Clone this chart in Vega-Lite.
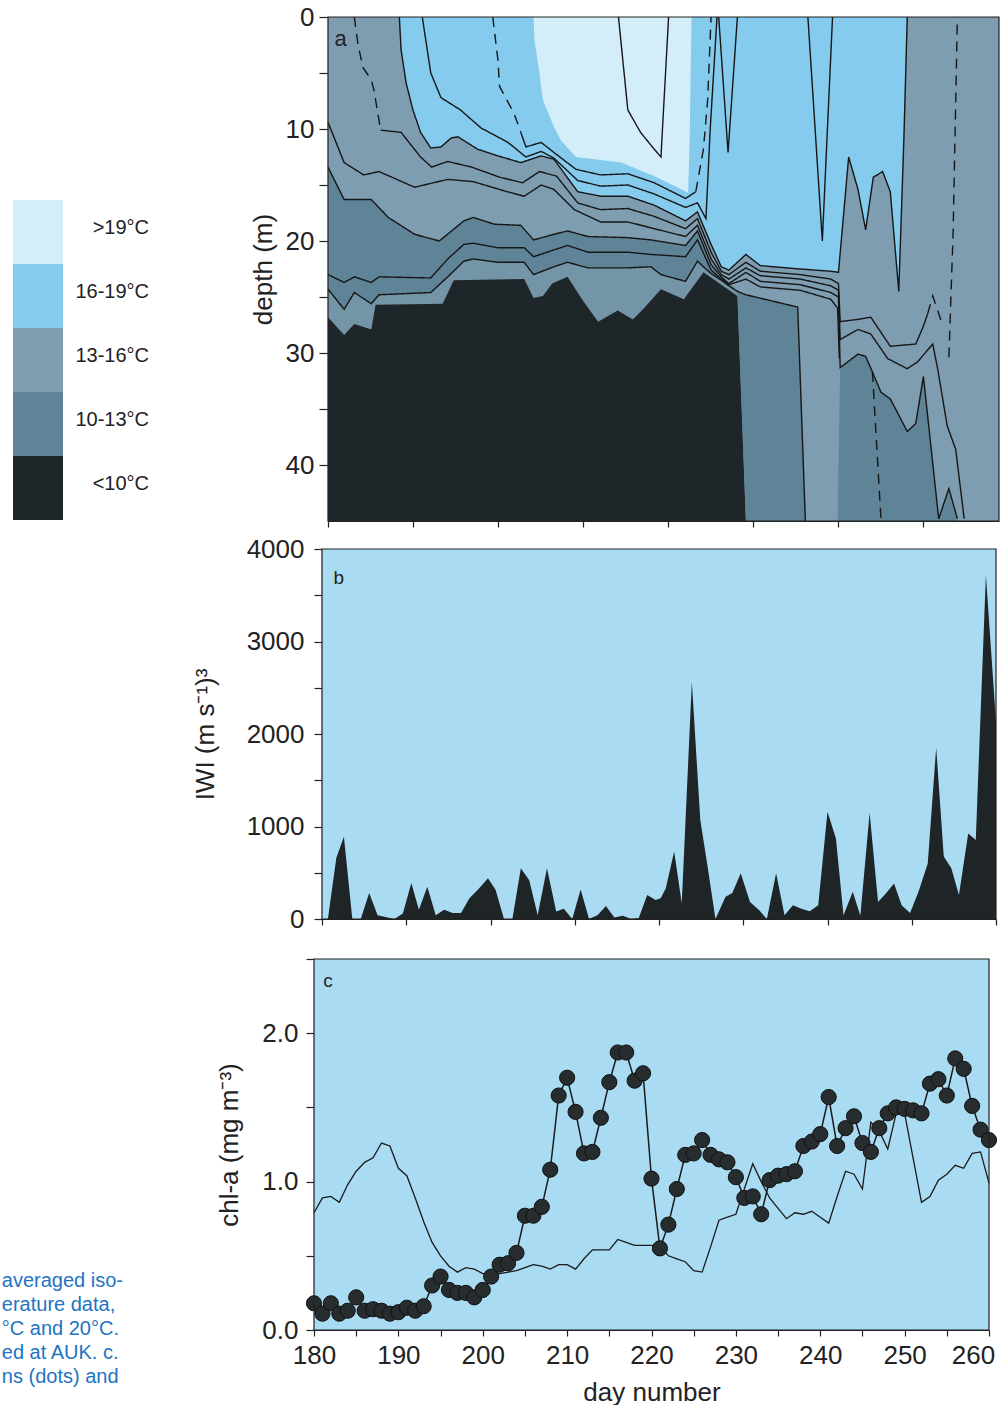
{
  "$schema": "https://vega.github.io/schema/vega-lite/v6.json",
  "background": "white",
  "padding": {"left": 1, "top": 4, "right": 0, "bottom": 0},
  "spacing": 28,
  "bounds": "flush",
  "config": {
    "font": "Liberation Sans",
    "view": {"stroke": null},
    "axis": {"labelFontSize": 26, "titleFontSize": 26, "titleFontWeight": "normal", "labelColor": "#222", "titleColor": "#222", "domainColor": "#222", "tickColor": "#222", "domainWidth": 1.2, "tickWidth": 1.2, "grid": false, "labelOverlap": false, "labelFlush": false, "zindex": 1}
  },
  "datasets": {
    "bands": [
      {"b":"bg","day":180,"depth":45},{"b":"bg","day":259,"depth":45},
      {"b":"d10","day":180,"depth":26.8},{"b":"d10","day":181.9,"depth":28.4},{"b":"d10","day":183.1,"depth":27.4},{"b":"d10","day":185.1,"depth":27.9},{"b":"d10","day":185.6,"depth":25.7},{"b":"d10","day":193.5,"depth":25.6},{"b":"d10","day":194.8,"depth":23.5},{"b":"d10","day":203.1,"depth":23.4},{"b":"d10","day":204.2,"depth":25.1},{"b":"d10","day":205.3,"depth":24.9},{"b":"d10","day":206.4,"depth":23.8},{"b":"d10","day":208.2,"depth":23.2},{"b":"d10","day":209.9,"depth":25.2},{"b":"d10","day":211.8,"depth":27.2},{"b":"d10","day":214.1,"depth":26.2},{"b":"d10","day":215.9,"depth":27.0},{"b":"d10","day":217.2,"depth":26.0},{"b":"d10","day":219.2,"depth":24.3},{"b":"d10","day":221.9,"depth":25.2},{"b":"d10","day":224.2,"depth":22.8},{"b":"d10","day":228.2,"depth":24.9},{"b":"d10","day":229.2,"depth":45},{"b":"d10","day":259,"depth":45},
      {"b":"dS","day":180,"depth":24.3},{"b":"dS","day":181.9,"depth":26.1},{"b":"dS","day":183.1,"depth":24.6},{"b":"dS","day":185.1,"depth":25.6},{"b":"dS","day":186.0,"depth":24.8},{"b":"dS","day":192.1,"depth":24.6},{"b":"dS","day":194.1,"depth":23.2},{"b":"dS","day":196.0,"depth":21.8},{"b":"dS","day":197.1,"depth":21.6},{"b":"dS","day":200.0,"depth":21.9},{"b":"dS","day":203.1,"depth":21.9},{"b":"dS","day":204.2,"depth":23.0},{"b":"dS","day":206.6,"depth":22.3},{"b":"dS","day":208.2,"depth":21.9},{"b":"dS","day":210.6,"depth":22.4},{"b":"dS","day":215.3,"depth":22.4},{"b":"dS","day":218.0,"depth":22.3},{"b":"dS","day":219.2,"depth":23.0},{"b":"dS","day":222.1,"depth":23.6},{"b":"dS","day":223.5,"depth":21.8},{"b":"dS","day":224.2,"depth":22.3},{"b":"dS","day":225.1,"depth":22.9},{"b":"dS","day":226.3,"depth":23.5},{"b":"dS","day":227.2,"depth":24.0},{"b":"dS","day":228.2,"depth":24.5},{"b":"dS","day":229.2,"depth":45},{"b":"dS","day":259,"depth":45},
      {"b":"d13","day":180,"depth":13.4},{"b":"d13","day":181.9,"depth":16.3},{"b":"d13","day":185.1,"depth":16.3},{"b":"d13","day":187.1,"depth":17.9},{"b":"d13","day":190.2,"depth":19.4},{"b":"d13","day":193.1,"depth":20.0},{"b":"d13","day":196.0,"depth":18.2},{"b":"d13","day":197.1,"depth":17.9},{"b":"d13","day":199.6,"depth":18.5},{"b":"d13","day":202.7,"depth":18.6},{"b":"d13","day":204.2,"depth":19.9},{"b":"d13","day":206.6,"depth":19.4},{"b":"d13","day":208.2,"depth":19.1},{"b":"d13","day":210.6,"depth":19.6},{"b":"d13","day":215.3,"depth":19.7},{"b":"d13","day":218.0,"depth":19.9},{"b":"d13","day":222.1,"depth":20.4},{"b":"d13","day":223.5,"depth":19.1},{"b":"d13","day":225.1,"depth":22.1},{"b":"d13","day":226.3,"depth":23.2},{"b":"d13","day":227.2,"depth":23.8},{"b":"d13","day":228.2,"depth":24.4},{"b":"d13","day":229.2,"depth":24.8},{"b":"d13","day":235.3,"depth":25.9},{"b":"d13","day":236.2,"depth":45},{"b":"d13","day":240.0,"depth":45},{"b":"d13","day":240.3,"depth":31.3},{"b":"d13","day":242.4,"depth":30.1},{"b":"d13","day":243.3,"depth":30.3},{"b":"d13","day":244.1,"depth":31.7},{"b":"d13","day":245.1,"depth":33.5},{"b":"d13","day":246.2,"depth":34.1},{"b":"d13","day":248.2,"depth":37.0},{"b":"d13","day":249.2,"depth":36.3},{"b":"d13","day":250.1,"depth":32.1},{"b":"d13","day":251.9,"depth":44.8},{"b":"d13","day":253.1,"depth":42.1},{"b":"d13","day":254.1,"depth":45},{"b":"d13","day":259,"depth":45},
      {"b":"d16","day":180,"depth":0},{"b":"d16","day":188.3,"depth":0},{"b":"d16","day":188.4,"depth":0.3},{"b":"d16","day":188.6,"depth":2.9},{"b":"d16","day":189.2,"depth":5.9},{"b":"d16","day":190.0,"depth":8.3},{"b":"d16","day":190.9,"depth":10.3},{"b":"d16","day":192.1,"depth":11.7},{"b":"d16","day":193.3,"depth":11.6},{"b":"d16","day":194.5,"depth":10.8},{"b":"d16","day":195.3,"depth":10.7},{"b":"d16","day":197.6,"depth":11.8},{"b":"d16","day":200.0,"depth":12.4},{"b":"d16","day":202.7,"depth":13.0},{"b":"d16","day":205.1,"depth":12.4},{"b":"d16","day":206.6,"depth":12.7},{"b":"d16","day":209.4,"depth":15.6},{"b":"d16","day":212.1,"depth":16.0},{"b":"d16","day":215.3,"depth":16.0},{"b":"d16","day":218.4,"depth":16.8},{"b":"d16","day":222.1,"depth":18.2},{"b":"d16","day":223.5,"depth":17.4},{"b":"d16","day":225.1,"depth":20.3},{"b":"d16","day":226.3,"depth":22.3},{"b":"d16","day":227.2,"depth":22.6},{"b":"d16","day":229.2,"depth":21.2},{"b":"d16","day":230.9,"depth":22.2},{"b":"d16","day":235.6,"depth":22.5},{"b":"d16","day":239.2,"depth":22.7},{"b":"d16","day":240.1,"depth":22.8},{"b":"d16","day":241.3,"depth":12.5},{"b":"d16","day":242.4,"depth":15.4},{"b":"d16","day":243.3,"depth":19.0},{"b":"d16","day":244.2,"depth":14.3},{"b":"d16","day":245.3,"depth":13.8},{"b":"d16","day":246.2,"depth":15.6},{"b":"d16","day":247.2,"depth":24.5},{"b":"d16","day":247.8,"depth":10.9},{"b":"d16","day":248.2,"depth":0},{"b":"d16","day":259,"depth":0},
      {"b":"d19","day":180,"depth":0},{"b":"d19","day":204.2,"depth":0},{"b":"d19","day":204.3,"depth":2.0},{"b":"d19","day":204.8,"depth":4.5},{"b":"d19","day":205.3,"depth":7.4},{"b":"d19","day":206.6,"depth":9.8},{"b":"d19","day":207.4,"depth":11.0},{"b":"d19","day":209.2,"depth":12.5},{"b":"d19","day":214.5,"depth":13.0},{"b":"d19","day":218.4,"depth":14.2},{"b":"d19","day":222.4,"depth":15.7},{"b":"d19","day":222.6,"depth":10.0},{"b":"d19","day":222.8,"depth":0},{"b":"d19","day":259,"depth":0}
    ],
    "iso": [
      {"seg":"c1a","dash":"d","day":199.4,"depth":0},{"seg":"c1a","dash":"d","day":200.0,"depth":3.8},{"seg":"c1a","dash":"d","day":200.2,"depth":6.2},{"seg":"c1a","dash":"d","day":201.9,"depth":8.6},{"seg":"c1a","dash":"d","day":202.7,"depth":10.3},
      {"seg":"c1b","dash":"s","day":202.7,"depth":10.3},{"seg":"c1b","dash":"s","day":203.3,"depth":11.6},{"seg":"c1b","dash":"s","day":205.1,"depth":11.2},{"seg":"c1b","dash":"s","day":206.6,"depth":12.1},{"seg":"c1b","dash":"s","day":209.2,"depth":13.6},{"seg":"c1b","dash":"s","day":212.1,"depth":14.1},{"seg":"c1b","dash":"s","day":215.3,"depth":14.0},{"seg":"c1b","dash":"s","day":218.4,"depth":14.8},{"seg":"c1b","dash":"s","day":222.1,"depth":16.2},{"seg":"c1b","dash":"s","day":223.3,"depth":15.6},
      {"seg":"c1c","dash":"d","day":223.3,"depth":15.6},{"seg":"c1c","dash":"d","day":224.2,"depth":11.8},{"seg":"c1c","dash":"d","day":224.7,"depth":7.4},{"seg":"c1c","dash":"d","day":225.1,"depth":0},
      {"seg":"c2","dash":"s","day":191.1,"depth":0},{"seg":"c2","dash":"s","day":192.1,"depth":5.0},{"seg":"c2","dash":"s","day":193.3,"depth":7.2},{"seg":"c2","dash":"s","day":195.6,"depth":8.3},{"seg":"c2","dash":"s","day":198.0,"depth":9.9},{"seg":"c2","dash":"s","day":201.2,"depth":11.2},{"seg":"c2","dash":"s","day":203.3,"depth":12.5},{"seg":"c2","dash":"s","day":205.1,"depth":12.0},{"seg":"c2","dash":"s","day":206.6,"depth":12.6},{"seg":"c2","dash":"s","day":209.4,"depth":14.6},{"seg":"c2","dash":"s","day":212.1,"depth":15.1},{"seg":"c2","dash":"s","day":215.3,"depth":15.0},{"seg":"c2","dash":"s","day":218.4,"depth":15.8},{"seg":"c2","dash":"s","day":222.1,"depth":17.0},{"seg":"c2","dash":"s","day":223.5,"depth":16.6},{"seg":"c2","dash":"s","day":224.5,"depth":18.0},{"seg":"c2","dash":"s","day":225.0,"depth":10.0},{"seg":"c2","dash":"s","day":225.8,"depth":0},
      {"seg":"c3","dash":"s","day":188.4,"depth":0},{"seg":"c3","dash":"s","day":188.6,"depth":2.9},{"seg":"c3","dash":"s","day":189.2,"depth":5.9},{"seg":"c3","dash":"s","day":190.0,"depth":8.3},{"seg":"c3","dash":"s","day":190.9,"depth":10.3},{"seg":"c3","dash":"s","day":192.1,"depth":11.7},{"seg":"c3","dash":"s","day":193.3,"depth":11.6},{"seg":"c3","dash":"s","day":194.5,"depth":10.8},{"seg":"c3","dash":"s","day":195.3,"depth":10.7},{"seg":"c3","dash":"s","day":197.6,"depth":11.8},{"seg":"c3","dash":"s","day":200.0,"depth":12.4},{"seg":"c3","dash":"s","day":202.7,"depth":13.0},{"seg":"c3","dash":"s","day":205.1,"depth":12.4},{"seg":"c3","dash":"s","day":206.6,"depth":12.7},{"seg":"c3","dash":"s","day":209.4,"depth":15.6},{"seg":"c3","dash":"s","day":212.1,"depth":16.0},{"seg":"c3","dash":"s","day":215.3,"depth":16.0},{"seg":"c3","dash":"s","day":218.4,"depth":16.8},{"seg":"c3","dash":"s","day":222.1,"depth":18.2},{"seg":"c3","dash":"s","day":223.5,"depth":17.4},{"seg":"c3","dash":"s","day":225.1,"depth":20.3},{"seg":"c3","dash":"s","day":226.3,"depth":22.3},{"seg":"c3","dash":"s","day":227.2,"depth":22.6},{"seg":"c3","dash":"s","day":229.2,"depth":21.2},{"seg":"c3","dash":"s","day":230.9,"depth":22.2},{"seg":"c3","dash":"s","day":235.6,"depth":22.5},{"seg":"c3","dash":"s","day":239.2,"depth":22.7},{"seg":"c3","dash":"s","day":240.1,"depth":22.8},{"seg":"c3","dash":"s","day":241.3,"depth":12.5},{"seg":"c3","dash":"s","day":242.4,"depth":15.4},{"seg":"c3","dash":"s","day":243.3,"depth":19.0},{"seg":"c3","dash":"s","day":244.2,"depth":14.3},{"seg":"c3","dash":"s","day":245.3,"depth":13.8},{"seg":"c3","dash":"s","day":246.2,"depth":15.6},{"seg":"c3","dash":"s","day":247.2,"depth":24.5},{"seg":"c3","dash":"s","day":247.8,"depth":10.9},{"seg":"c3","dash":"s","day":248.2,"depth":0},
      {"seg":"c4a","dash":"d","day":183.1,"depth":0},{"seg":"c4a","dash":"d","day":183.5,"depth":2.3},{"seg":"c4a","dash":"d","day":184.1,"depth":4.5},{"seg":"c4a","dash":"d","day":185.1,"depth":5.6},{"seg":"c4a","dash":"d","day":185.4,"depth":6.5},{"seg":"c4a","dash":"d","day":186.0,"depth":9.2},{"seg":"c4a","dash":"d","day":186.2,"depth":10.1},
      {"seg":"c4b","dash":"s","day":186.2,"depth":10.1},{"seg":"c4b","dash":"s","day":188.6,"depth":10.3},{"seg":"c4b","dash":"s","day":190.9,"depth":12.5},{"seg":"c4b","dash":"s","day":192.2,"depth":13.4},{"seg":"c4b","dash":"s","day":194.1,"depth":12.9},{"seg":"c4b","dash":"s","day":196.9,"depth":13.4},{"seg":"c4b","dash":"s","day":200.2,"depth":14.3},{"seg":"c4b","dash":"s","day":202.9,"depth":14.8},{"seg":"c4b","dash":"s","day":204.9,"depth":13.8},{"seg":"c4b","dash":"s","day":206.9,"depth":14.2},{"seg":"c4b","dash":"s","day":209.4,"depth":16.6},{"seg":"c4b","dash":"s","day":212.1,"depth":17.2},{"seg":"c4b","dash":"s","day":215.3,"depth":17.1},{"seg":"c4b","dash":"s","day":218.4,"depth":17.8},{"seg":"c4b","dash":"s","day":222.1,"depth":18.9},{"seg":"c4b","dash":"s","day":223.5,"depth":18.0},{"seg":"c4b","dash":"s","day":225.1,"depth":21.0},{"seg":"c4b","dash":"s","day":226.3,"depth":22.7},{"seg":"c4b","dash":"s","day":227.2,"depth":23.0},{"seg":"c4b","dash":"s","day":229.2,"depth":21.9},{"seg":"c4b","dash":"s","day":230.9,"depth":22.7},{"seg":"c4b","dash":"s","day":235.6,"depth":23.0},{"seg":"c4b","dash":"s","day":239.2,"depth":23.4},{"seg":"c4b","dash":"s","day":240.1,"depth":23.8},{"seg":"c4b","dash":"s","day":240.3,"depth":27.2},{"seg":"c4b","dash":"s","day":242.4,"depth":27.0},{"seg":"c4b","dash":"s","day":243.9,"depth":26.8},{"seg":"c4b","dash":"s","day":246.2,"depth":29.4},{"seg":"c4b","dash":"s","day":249.2,"depth":29.2},{"seg":"c4b","dash":"s","day":250.1,"depth":27.6},{"seg":"c4b","dash":"s","day":250.6,"depth":26.5},
      {"seg":"c4c","dash":"d","day":250.6,"depth":26.5},{"seg":"c4c","dash":"d","day":251.2,"depth":24.9},{"seg":"c4c","dash":"d","day":252.4,"depth":27.6},
      {"seg":"c5","dash":"s","day":180,"depth":9.4},{"seg":"c5","dash":"s","day":181.9,"depth":13.0},{"seg":"c5","dash":"s","day":184.2,"depth":14.1},{"seg":"c5","dash":"s","day":186.0,"depth":13.8},{"seg":"c5","dash":"s","day":190.2,"depth":15.2},{"seg":"c5","dash":"s","day":194.1,"depth":14.5},{"seg":"c5","dash":"s","day":197.1,"depth":14.7},{"seg":"c5","dash":"s","day":201.1,"depth":15.6},{"seg":"c5","dash":"s","day":203.1,"depth":16.0},{"seg":"c5","dash":"s","day":205.1,"depth":15.0},{"seg":"c5","dash":"s","day":206.6,"depth":15.4},{"seg":"c5","dash":"s","day":209.0,"depth":17.2},{"seg":"c5","dash":"s","day":212.1,"depth":18.3},{"seg":"c5","dash":"s","day":215.3,"depth":18.3},{"seg":"c5","dash":"s","day":218.4,"depth":18.9},{"seg":"c5","dash":"s","day":222.1,"depth":19.6},{"seg":"c5","dash":"s","day":223.5,"depth":18.6},{"seg":"c5","dash":"s","day":225.1,"depth":21.6},{"seg":"c5","dash":"s","day":226.3,"depth":23.0},{"seg":"c5","dash":"s","day":227.2,"depth":23.4},{"seg":"c5","dash":"s","day":229.2,"depth":22.4},{"seg":"c5","dash":"s","day":230.9,"depth":23.1},{"seg":"c5","dash":"s","day":235.6,"depth":23.4},{"seg":"c5","dash":"s","day":239.2,"depth":24.0},{"seg":"c5","dash":"s","day":240.1,"depth":24.4},{"seg":"c5","dash":"s","day":240.3,"depth":28.8},{"seg":"c5","dash":"s","day":242.4,"depth":27.9},{"seg":"c5","dash":"s","day":243.9,"depth":28.3},{"seg":"c5","dash":"s","day":245.9,"depth":30.5},{"seg":"c5","dash":"s","day":248.2,"depth":31.4},{"seg":"c5","dash":"s","day":249.4,"depth":30.8},{"seg":"c5","dash":"s","day":251.2,"depth":29.2},{"seg":"c5","dash":"s","day":251.8,"depth":31.5},{"seg":"c5","dash":"s","day":252.9,"depth":36.5},{"seg":"c5","dash":"s","day":253.9,"depth":38.6},{"seg":"c5","dash":"s","day":254.9,"depth":44.8},
      {"seg":"c6","dash":"s","day":180,"depth":13.4},{"seg":"c6","dash":"s","day":181.9,"depth":16.3},{"seg":"c6","dash":"s","day":185.1,"depth":16.3},{"seg":"c6","dash":"s","day":187.1,"depth":17.9},{"seg":"c6","dash":"s","day":190.2,"depth":19.4},{"seg":"c6","dash":"s","day":193.1,"depth":20.0},{"seg":"c6","dash":"s","day":196.0,"depth":18.2},{"seg":"c6","dash":"s","day":197.1,"depth":17.9},{"seg":"c6","dash":"s","day":199.6,"depth":18.5},{"seg":"c6","dash":"s","day":202.7,"depth":18.6},{"seg":"c6","dash":"s","day":204.2,"depth":19.9},{"seg":"c6","dash":"s","day":206.6,"depth":19.4},{"seg":"c6","dash":"s","day":208.2,"depth":19.1},{"seg":"c6","dash":"s","day":210.6,"depth":19.6},{"seg":"c6","dash":"s","day":215.3,"depth":19.7},{"seg":"c6","dash":"s","day":218.0,"depth":19.9},{"seg":"c6","dash":"s","day":222.1,"depth":20.4},{"seg":"c6","dash":"s","day":223.5,"depth":19.1},{"seg":"c6","dash":"s","day":225.1,"depth":22.1},{"seg":"c6","dash":"s","day":226.3,"depth":23.2},{"seg":"c6","dash":"s","day":227.2,"depth":23.8},{"seg":"c6","dash":"s","day":229.2,"depth":22.8},{"seg":"c6","dash":"s","day":230.9,"depth":23.6},{"seg":"c6","dash":"s","day":235.6,"depth":23.9},{"seg":"c6","dash":"s","day":239.2,"depth":24.6},{"seg":"c6","dash":"s","day":240.1,"depth":25.0},{"seg":"c6","dash":"s","day":240.3,"depth":31.3},{"seg":"c6","dash":"s","day":242.4,"depth":30.1},{"seg":"c6","dash":"s","day":243.3,"depth":30.3},{"seg":"c6","dash":"s","day":244.1,"depth":31.7},{"seg":"c6","dash":"s","day":245.1,"depth":33.5},{"seg":"c6","dash":"s","day":246.2,"depth":34.1},{"seg":"c6","dash":"s","day":248.2,"depth":37.0},{"seg":"c6","dash":"s","day":249.2,"depth":36.3},{"seg":"c6","dash":"s","day":250.1,"depth":32.1},{"seg":"c6","dash":"s","day":251.9,"depth":44.8},
      {"seg":"c7","dash":"s","day":180,"depth":23.0},{"seg":"c7","dash":"s","day":181.9,"depth":23.7},{"seg":"c7","dash":"s","day":183.1,"depth":23.2},{"seg":"c7","dash":"s","day":185.1,"depth":23.7},{"seg":"c7","dash":"s","day":186.0,"depth":23.2},{"seg":"c7","dash":"s","day":192.1,"depth":23.3},{"seg":"c7","dash":"s","day":194.1,"depth":21.6},{"seg":"c7","dash":"s","day":196.0,"depth":20.3},{"seg":"c7","dash":"s","day":197.1,"depth":20.2},{"seg":"c7","dash":"s","day":200.0,"depth":20.6},{"seg":"c7","dash":"s","day":203.1,"depth":20.6},{"seg":"c7","dash":"s","day":204.2,"depth":21.4},{"seg":"c7","dash":"s","day":206.6,"depth":20.8},{"seg":"c7","dash":"s","day":208.2,"depth":20.4},{"seg":"c7","dash":"s","day":210.6,"depth":21.0},{"seg":"c7","dash":"s","day":215.3,"depth":21.0},{"seg":"c7","dash":"s","day":218.0,"depth":21.2},{"seg":"c7","dash":"s","day":222.1,"depth":21.4},{"seg":"c7","dash":"s","day":223.5,"depth":19.9},{"seg":"c7","dash":"s","day":225.1,"depth":22.6},{"seg":"c7","dash":"s","day":226.3,"depth":23.4},{"seg":"c7","dash":"s","day":227.2,"depth":23.9},{"seg":"c7","dash":"s","day":229.2,"depth":23.4},{"seg":"c7","dash":"s","day":230.9,"depth":24.1},{"seg":"c7","dash":"s","day":235.6,"depth":24.4},{"seg":"c7","dash":"s","day":239.2,"depth":25.2},{"seg":"c7","dash":"s","day":240.0,"depth":26.0},{"seg":"c7","dash":"s","day":240.2,"depth":30.5},
      {"seg":"c8","dash":"s","day":180,"depth":24.3},{"seg":"c8","dash":"s","day":181.9,"depth":26.1},{"seg":"c8","dash":"s","day":183.1,"depth":24.6},{"seg":"c8","dash":"s","day":185.1,"depth":25.6},{"seg":"c8","dash":"s","day":186.0,"depth":24.8},{"seg":"c8","dash":"s","day":192.1,"depth":24.6},{"seg":"c8","dash":"s","day":194.1,"depth":23.2},{"seg":"c8","dash":"s","day":196.0,"depth":21.8},{"seg":"c8","dash":"s","day":197.1,"depth":21.6},{"seg":"c8","dash":"s","day":200.0,"depth":21.9},{"seg":"c8","dash":"s","day":203.1,"depth":21.9},{"seg":"c8","dash":"s","day":204.2,"depth":23.0},{"seg":"c8","dash":"s","day":206.6,"depth":22.3},{"seg":"c8","dash":"s","day":208.2,"depth":21.9},{"seg":"c8","dash":"s","day":210.6,"depth":22.4},{"seg":"c8","dash":"s","day":215.3,"depth":22.4},{"seg":"c8","dash":"s","day":218.0,"depth":22.3},{"seg":"c8","dash":"s","day":219.2,"depth":23.0},{"seg":"c8","dash":"s","day":222.1,"depth":23.6},{"seg":"c8","dash":"s","day":223.5,"depth":21.8},{"seg":"c8","dash":"s","day":224.2,"depth":22.3},{"seg":"c8","dash":"s","day":225.1,"depth":22.9},{"seg":"c8","dash":"s","day":226.3,"depth":23.5},{"seg":"c8","dash":"s","day":227.2,"depth":24.0},{"seg":"c8","dash":"s","day":228.2,"depth":24.5},{"seg":"c8","dash":"s","day":229.2,"depth":24.8},{"seg":"c8","dash":"s","day":235.3,"depth":25.9},{"seg":"c8","dash":"s","day":236.2,"depth":45},
      {"seg":"v19","dash":"s","day":214.2,"depth":0},{"seg":"v19","dash":"s","day":215.3,"depth":8.3},{"seg":"v19","dash":"s","day":216.8,"depth":10.3},{"seg":"v19","dash":"s","day":218.4,"depth":11.8},{"seg":"v19","dash":"s","day":219.2,"depth":12.5},{"seg":"v19","dash":"s","day":220.1,"depth":0},
      {"seg":"v1","dash":"s","day":226.0,"depth":0},{"seg":"v1","dash":"s","day":227.1,"depth":12.1},{"seg":"v1","dash":"s","day":228.2,"depth":0},
      {"seg":"v2","dash":"s","day":236.5,"depth":0},{"seg":"v2","dash":"s","day":238.2,"depth":20.0},{"seg":"v2","dash":"s","day":239.4,"depth":0},
      {"seg":"dR","dash":"d","day":253.1,"depth":30.4},{"seg":"dR","dash":"d","day":253.6,"depth":19.2},{"seg":"dR","dash":"d","day":254.1,"depth":0},
      {"seg":"dA","dash":"d","day":244.1,"depth":31.7},{"seg":"dA","dash":"d","day":245.1,"depth":44.8},
      {"seg":"sp","dash":"s","day":251.9,"depth":44.8},{"seg":"sp","dash":"s","day":253.1,"depth":42.1},{"seg":"sp","dash":"s","day":254.1,"depth":44.8}
    ],
    "iwi": [
      {"day":180,"iwi":0},{"day":180.7,"iwi":0},{"day":181.7,"iwi":660},{"day":182.6,"iwi":890},{"day":183.6,"iwi":0},{"day":184.6,"iwi":0},{"day":185.6,"iwi":280},{"day":186.6,"iwi":40},{"day":188.6,"iwi":0},{"day":189.6,"iwi":60},{"day":190.6,"iwi":390},{"day":191.5,"iwi":100},{"day":192.5,"iwi":350},{"day":193.5,"iwi":40},{"day":194.5,"iwi":100},{"day":195.5,"iwi":65},{"day":196.5,"iwi":65},{"day":197.5,"iwi":225},{"day":198.5,"iwi":315},{"day":199.7,"iwi":440},{"day":200.6,"iwi":315},{"day":201.6,"iwi":0},{"day":202.6,"iwi":0},{"day":203.6,"iwi":550},{"day":204.6,"iwi":420},{"day":205.6,"iwi":40},{"day":206.7,"iwi":550},{"day":207.8,"iwi":80},{"day":208.7,"iwi":110},{"day":209.7,"iwi":0},{"day":210.7,"iwi":320},{"day":211.7,"iwi":0},{"day":212.7,"iwi":40},{"day":213.7,"iwi":140},{"day":214.7,"iwi":15},{"day":215.7,"iwi":35},{"day":216.7,"iwi":0},{"day":217.6,"iwi":10},{"day":218.6,"iwi":260},{"day":219.6,"iwi":205},{"day":220.2,"iwi":225},{"day":220.8,"iwi":330},{"day":221.8,"iwi":730},{"day":222.7,"iwi":170},{"day":223.9,"iwi":2565},{"day":224.9,"iwi":1070},{"day":225.8,"iwi":550},{"day":226.7,"iwi":0},{"day":227.9,"iwi":240},{"day":228.7,"iwi":280},{"day":229.7,"iwi":495},{"day":230.8,"iwi":185},{"day":231.9,"iwi":95},{"day":232.8,"iwi":0},{"day":233.9,"iwi":495},{"day":234.9,"iwi":40},{"day":235.9,"iwi":150},{"day":236.9,"iwi":110},{"day":237.9,"iwi":85},{"day":238.9,"iwi":150},{"day":240.0,"iwi":1160},{"day":241.0,"iwi":870},{"day":241.9,"iwi":40},{"day":243.0,"iwi":295},{"day":243.9,"iwi":35},{"day":245.0,"iwi":1150},{"day":246.0,"iwi":185},{"day":247.0,"iwi":285},{"day":247.9,"iwi":385},{"day":248.8,"iwi":150},{"day":249.8,"iwi":65},{"day":250.8,"iwi":295},{"day":251.9,"iwi":600},{"day":252.9,"iwi":1855},{"day":253.8,"iwi":675},{"day":254.7,"iwi":550},{"day":255.6,"iwi":260},{"day":256.7,"iwi":925},{"day":257.6,"iwi":855},{"day":258.8,"iwi":3720},{"day":260.0,"iwi":2130}
    ],
    "chl": [
      {"day":180,"chl":0.18,"ref":0.79},{"day":181,"chl":0.11,"ref":0.89},{"day":182,"chl":0.18,"ref":0.90},{"day":183,"chl":0.11,"ref":0.86},{"day":184,"chl":0.13,"ref":0.98},{"day":185,"chl":0.22,"ref":1.07},{"day":186,"chl":0.13,"ref":1.13},{"day":187,"chl":0.14,"ref":1.16},{"day":188,"chl":0.13,"ref":1.26},{"day":189,"chl":0.11,"ref":1.24},{"day":190,"chl":0.12,"ref":1.09},{"day":191,"chl":0.15,"ref":1.04},{"day":192,"chl":0.13,"ref":0.89},{"day":193,"chl":0.16,"ref":0.73},{"day":194,"chl":0.30,"ref":0.59},{"day":195,"chl":0.36,"ref":0.50},{"day":196,"chl":0.27,"ref":0.43},{"day":197,"chl":0.25,"ref":0.39},{"day":198,"chl":0.25,"ref":0.42},{"day":199,"chl":0.22,"ref":0.41},{"day":200,"chl":0.27,"ref":0.38},{"day":201,"chl":0.36,"ref":0.38},{"day":202,"chl":0.44,"ref":0.38},{"day":203,"chl":0.45,"ref":0.39},{"day":204,"chl":0.52,"ref":0.40},{"day":205,"chl":0.77,"ref":0.42},{"day":206,"chl":0.77,"ref":0.44},{"day":207,"chl":0.83,"ref":0.43},{"day":208,"chl":1.08,"ref":0.41},{"day":209,"chl":1.58,"ref":0.44},{"day":210,"chl":1.70,"ref":0.44},{"day":211,"chl":1.47,"ref":0.41},{"day":212,"chl":1.19,"ref":0.48},{"day":213,"chl":1.20,"ref":0.54},{"day":214,"chl":1.43,"ref":0.54},{"day":215,"chl":1.67,"ref":0.54},{"day":216,"chl":1.87,"ref":0.61},{"day":217,"chl":1.87,"ref":0.59},{"day":218,"chl":1.68,"ref":0.57},{"day":219,"chl":1.73,"ref":0.57},{"day":220,"chl":1.02,"ref":0.57},{"day":221,"chl":0.55,"ref":0.56},{"day":222,"chl":0.71,"ref":0.50},{"day":223,"chl":0.95,"ref":0.48},{"day":224,"chl":1.18,"ref":0.46},{"day":225,"chl":1.19,"ref":0.40},{"day":226,"chl":1.28,"ref":0.39},{"day":227,"chl":1.18,"ref":0.56},{"day":228,"chl":1.15,"ref":0.74},{"day":229,"chl":1.13,"ref":0.76},{"day":230,"chl":1.03,"ref":0.78},{"day":231,"chl":0.89,"ref":0.95},{"day":232,"chl":0.90,"ref":1.12},{"day":233,"chl":0.78,"ref":1.00},{"day":234,"chl":1.01,"ref":0.89},{"day":235,"chl":1.04,"ref":0.82},{"day":236,"chl":1.05,"ref":0.75},{"day":237,"chl":1.07,"ref":0.79},{"day":238,"chl":1.24,"ref":0.78},{"day":239,"chl":1.27,"ref":0.80},{"day":240,"chl":1.32,"ref":0.76},{"day":241,"chl":1.57,"ref":0.72},{"day":242,"chl":1.24,"ref":0.90},{"day":243,"chl":1.36,"ref":1.07},{"day":244,"chl":1.44,"ref":1.05},{"day":245,"chl":1.26,"ref":0.95},{"day":246,"chl":1.20,"ref":1.40},{"day":247,"chl":1.36,"ref":1.34},{"day":248,"chl":1.46,"ref":1.22},{"day":249,"chl":1.50,"ref":1.46},{"day":250,"chl":1.49,"ref":1.46},{"day":251,"chl":1.48,"ref":1.16},{"day":252,"chl":1.46,"ref":0.86},{"day":253,"chl":1.66,"ref":0.90},{"day":254,"chl":1.69,"ref":1.01},{"day":255,"chl":1.58,"ref":1.05},{"day":256,"chl":1.83,"ref":1.11},{"day":257,"chl":1.76,"ref":1.09},{"day":258,"chl":1.51,"ref":1.19},{"day":259,"chl":1.35,"ref":1.20},{"day":260,"chl":1.28,"ref":0.99}
    ]
  },
  "vconcat": [
    {
      "width": 685,
      "height": 504,
      "layer": [
        {"data": {"name": "bands"}, "transform": [{"filter": "datum.b === 'bg'"}], "mark": {"type": "area", "opacity": 1},
         "encoding": {
           "x": {"field": "day", "type": "quantitative", "scale": {"domain": [180, 259], "range": [14, 685], "nice": false, "zero": false},
                 "axis": {"orient": "bottom", "values": [180, 190, 200, 210, 220, 230, 240, 250], "labels": false, "tickSize": 6, "title": null}},
           "y": {"field": "depth", "type": "quantitative", "stack": null, "scale": {"domain": [0, 45], "reverse": true, "nice": false, "zero": false},
                 "axis": {"orient": "left", "offset": -14, "values": [0, 5, 10, 15, 20, 25, 30, 35, 40], "labelExpr": "datum.value % 10 === 0 ? datum.label : ''", "tickSize": 9, "labelPadding": 5, "title": "depth (m)", "titlePadding": 9}},
           "y2": {"datum": 0},
           "color": {"datum": "<10°C", "type": "nominal",
             "scale": {"domain": [">19°C", "16-19°C", "13-16°C", "10-13°C", "<10°C"], "range": ["#d4eef9", "#84cbee", "#7e9db1", "#5f8397", "#1f2629"]},
             "legend": {"orient": "none", "legendX": -301, "legendY": 190, "title": null, "symbolType": "M-1,-1.28H1V1.28H-1Z", "symbolSize": 2500, "symbolStrokeWidth": 0, "symbolOpacity": 1, "rowPadding": 0, "labelOffset": 86, "labelAlign": "right", "labelFontSize": 20, "labelColor": "#222", "padding": 0, "offset": 0, "labelLimit": 300,
               "encode": {"symbols": {"update": {"fill": {"signal": "datum.value === '>19°C' ? '#c9e9f5' : datum.value === '16-19°C' ? '#17a4e7' : datum.value === '13-16°C' ? '#87a5b8' : datum.value === '10-13°C' ? '#5a7d90' : '#2a2d2e'"}}},
                          "labels": {"update": {"dy": {"value": -4}}}}}}}},
        {"data": {"name": "bands"}, "transform": [{"filter": "datum.b === 'd10'"}], "mark": {"type": "area", "opacity": 1, "color": "#7494a7"},
         "encoding": {"x": {"field": "day", "type": "quantitative"}, "y": {"field": "depth", "type": "quantitative", "stack": null}, "y2": {"datum": 0}}},
        {"data": {"name": "bands"}, "transform": [{"filter": "datum.b === 'dS'"}], "mark": {"type": "area", "opacity": 1},
         "encoding": {"x": {"field": "day", "type": "quantitative"}, "y": {"field": "depth", "type": "quantitative", "stack": null}, "y2": {"datum": 0}, "color": {"datum": "10-13°C", "type": "nominal"}}},
        {"data": {"name": "bands"}, "transform": [{"filter": "datum.b === 'd13'"}], "mark": {"type": "area", "opacity": 1},
         "encoding": {"x": {"field": "day", "type": "quantitative"}, "y": {"field": "depth", "type": "quantitative", "stack": null}, "y2": {"datum": 0}, "color": {"datum": "13-16°C", "type": "nominal"}}},
        {"data": {"name": "bands"}, "transform": [{"filter": "datum.b === 'd16'"}], "mark": {"type": "area", "opacity": 1},
         "encoding": {"x": {"field": "day", "type": "quantitative"}, "y": {"field": "depth", "type": "quantitative", "stack": null}, "y2": {"datum": 0}, "color": {"datum": "16-19°C", "type": "nominal"}}},
        {"data": {"name": "bands"}, "transform": [{"filter": "datum.b === 'd19'"}], "mark": {"type": "area", "opacity": 1},
         "encoding": {"x": {"field": "day", "type": "quantitative"}, "y": {"field": "depth", "type": "quantitative", "stack": null}, "y2": {"datum": 0}, "color": {"datum": ">19°C", "type": "nominal"}}},
        {"data": {"name": "iso"}, "mark": {"type": "line", "color": "#161616", "strokeWidth": 1.4},
         "encoding": {"x": {"field": "day", "type": "quantitative"}, "y": {"field": "depth", "type": "quantitative"},
           "detail": {"field": "seg", "type": "nominal"},
           "strokeDash": {"field": "dash", "type": "nominal", "scale": {"domain": ["s", "d"], "range": [[1, 0], [10, 7]]}, "legend": null}}},
        {"data": {"values": [{"t": "a"}]}, "mark": {"type": "text", "fontSize": 22, "color": "#222"},
         "encoding": {"x": {"datum": 181.5, "type": "quantitative"}, "y": {"datum": 2, "type": "quantitative"}, "text": {"field": "t", "type": "nominal"}}},
        {"data": {"values": [{"t": "frame"}]}, "mark": {"type": "rect", "fill": "transparent", "stroke": "#222", "strokeWidth": 1.2},
         "encoding": {"x": {"datum": 180, "type": "quantitative"}, "x2": {"datum": 259}, "y": {"datum": 0, "type": "quantitative"}, "y2": {"datum": 45}}}
      ]
    },
    {
      "width": 684,
      "height": 382,
      "layer": [
        {"data": {"values": [{"t": "background"}]}, "mark": {"type": "rect", "color": "#a9dcf3", "opacity": 1},
         "encoding": {"x": {"datum": 180, "type": "quantitative"}, "x2": {"datum": 260}, "y": {"datum": 0, "type": "quantitative"}, "y2": {"datum": 4000}}},
        {"data": {"name": "iwi"}, "mark": {"type": "area", "color": "#1f2427", "opacity": 1},
         "encoding": {
           "x": {"field": "day", "type": "quantitative", "scale": {"domain": [180, 260], "range": [8, 682], "nice": false, "zero": false},
                 "axis": {"orient": "bottom", "offset": -12, "values": [180, 190, 200, 210, 220, 230, 240, 250, 260], "labels": false, "tickSize": 6, "title": null}},
           "y": {"field": "iwi", "type": "quantitative", "scale": {"domain": [0, 4000], "range": [370, 0], "nice": false},
                 "axis": {"orient": "left", "offset": -8, "values": [0, 500, 1000, 1500, 2000, 2500, 3000, 3500, 4000], "format": "d", "labelExpr": "datum.value % 1000 === 0 ? datum.label : ''", "tickSize": 8, "labelPadding": 10, "title": "IWI (m s⁻¹)³", "titlePadding": 28}}}},
        {"data": {"values": [{"t": "frame"}]}, "mark": {"type": "rect", "fill": "transparent", "stroke": "#222", "strokeWidth": 1.2},
         "encoding": {"x": {"datum": 180, "type": "quantitative"}, "x2": {"datum": 260}, "y": {"datum": 0, "type": "quantitative"}, "y2": {"datum": 4000}}},
        {"data": {"values": [{"t": "b"}]}, "mark": {"type": "text", "fontSize": 19, "color": "#222"},
         "encoding": {"x": {"datum": 182.0, "type": "quantitative"}, "y": {"datum": 3690, "type": "quantitative"}, "text": {"field": "t", "type": "nominal"}}}
      ]
    },
    {
      "width": 675,
      "height": 371,
      "layer": [
        {"data": {"values": [{"t": "background"}]}, "mark": {"type": "rect", "color": "#a9dcf3", "opacity": 1},
         "encoding": {"x": {"datum": 180, "type": "quantitative"}, "x2": {"datum": 260}, "y": {"datum": 0, "type": "quantitative"}, "y2": {"datum": 2.5}}},
        {"data": {"name": "chl"}, "mark": {"type": "line", "color": "#1a1a1a", "strokeWidth": 1.3},
         "encoding": {"x": {"field": "day", "type": "quantitative"}, "y": {"field": "ref", "type": "quantitative"}}},
        {"data": {"name": "chl"}, "mark": {"type": "line", "color": "#1a1a1a", "strokeWidth": 1.5},
         "encoding": {
           "x": {"field": "day", "type": "quantitative", "scale": {"domain": [180, 260], "nice": false, "zero": false},
                 "axis": {"orient": "bottom", "values": [180, 185, 190, 195, 200, 205, 210, 215, 220, 225, 230, 235, 240, 245, 250, 255, 260], "labelExpr": "datum.value % 10 === 0 ? datum.label : ''", "labelOffset": {"condition": {"test": "datum.value === 260", "value": -16}, "value": 0}, "tickSize": 6, "labelPadding": 6, "title": "day number", "titlePadding": 11}},
           "y": {"field": "chl", "type": "quantitative", "scale": {"domain": [0, 2.5], "nice": false, "zero": false},
                 "axis": {"orient": "left", "values": [0, 0.5, 1, 1.5, 2, 2.5], "format": ".1f", "labelExpr": "datum.value === 0 || datum.value === 1 || datum.value === 2 ? datum.label : ''", "tickSize": 8, "labelPadding": 8, "title": "chl-a (mg m⁻³)", "titlePadding": 19}}}},
        {"data": {"name": "chl"}, "mark": {"type": "circle", "size": 230, "opacity": 1, "color": "#272c2f", "stroke": "#111", "strokeWidth": 1},
         "encoding": {"x": {"field": "day", "type": "quantitative"}, "y": {"field": "chl", "type": "quantitative"}}},
        {"data": {"values": [{"t": "frame"}]}, "mark": {"type": "rect", "fill": "transparent", "stroke": "#222", "strokeWidth": 1.2},
         "encoding": {"x": {"datum": 180, "type": "quantitative"}, "x2": {"datum": 260}, "y": {"datum": 0, "type": "quantitative"}, "y2": {"datum": 2.5}}},
        {"data": {"values": [{"t": "c"}]}, "mark": {"type": "text", "fontSize": 19, "color": "#222"},
         "encoding": {"x": {"datum": 181.66, "type": "quantitative"}, "y": {"datum": 2.35, "type": "quantitative"}, "text": {"field": "t", "type": "nominal"}}},
        {"data": {"values": [{"cap": ["averaged iso-", "erature  data,", "°C  and 20°C.", "ed at AUK. c.", "ns (dots) and"]}]},
         "mark": {"type": "text", "align": "left", "baseline": "top", "fontSize": 20, "lineHeight": 24, "color": "#2274c2"},
         "encoding": {"x": {"datum": 143.0, "type": "quantitative"}, "y": {"datum": 0.4, "type": "quantitative"}, "text": {"field": "cap", "type": "nominal"}}}
      ]
    }
  ]
}
